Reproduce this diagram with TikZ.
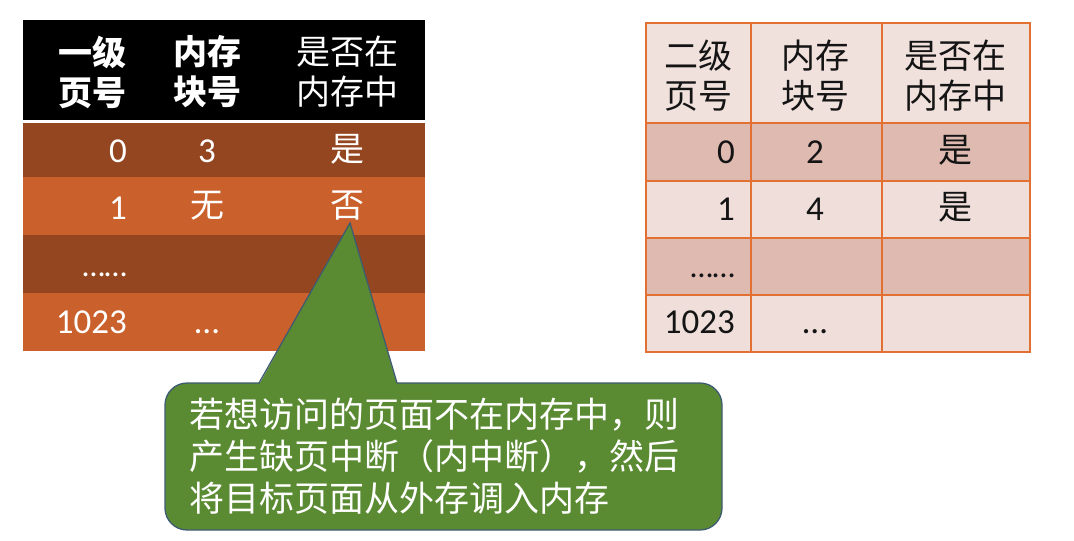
\documentclass[tikz,border=0pt]{standalone}
\usepackage{fontspec}
\setmainfont{Carlito}
\newfontfamily\cjk{Noto Sans CJK SC}
\definecolor{ldark}{RGB}{148,70,32}
\definecolor{lorange}{RGB}{202,96,44}
\definecolor{rhead}{RGB}{240,225,221}
\definecolor{rdark}{RGB}{222,186,176}
\definecolor{rlight}{RGB}{239,222,218}
\definecolor{rgrid}{RGB}{226,112,50}
\definecolor{cgreen}{RGB}{90,138,50}
\definecolor{cborder}{RGB}{62,92,112}
\definecolor{rtext}{RGB}{20,20,20}
\tikzset{
  cjkhead/.style={font=\cjk\fontsize{34}{40}\selectfont, align=center, inner sep=0pt},
  cjkcell/.style={font=\cjk\fontsize{34}{40}\selectfont, inner sep=0pt, anchor=base},
  numr/.style={font=\fontsize{35}{40}\selectfont, inner sep=0pt, anchor=base east},
  numc/.style={font=\fontsize{35}{40}\selectfont, inner sep=0pt, anchor=base},
  dotsr/.style={font=\fontsize{32}{38}\selectfont, inner sep=0pt, anchor=base east},
  gridline/.style={draw=rgrid, line width=2pt},
  calloutbox/.style={fill=cgreen, draw=cborder, line width=1.3pt, rounded corners=22pt,
    minimum width=557pt, minimum height=147pt, text width=509pt, align=left, inner sep=0pt,
    text=white, font=\cjk\fontsize{35}{42}\selectfont}
}
\begin{document}
\begin{tikzpicture}[x=1pt,y=-1pt]
\useasboundingbox (0,0) rectangle (1074,541);
\fill[white] (0,0) rectangle (1074,541);

% ---------- left table ----------
\fill[black]   (23,20)  rectangle (425,120);
\fill[ldark]   (23,123) rectangle (425,177);
\fill[lorange] (23,177) rectangle (425,235);
\fill[ldark]   (23,235) rectangle (425,293);
\fill[lorange] (23,293) rectangle (425,351);

\begin{scope}[text=white]
\node[cjkhead, font=\cjk\bfseries\fontsize{34}{40}\selectfont] (lh1) at (92,72) {一级\\页号};
\node[cjkhead, font=\cjk\bfseries\fontsize{34}{40}\selectfont] (lh2) at (207,72) {内存\\块号};
\node[cjkhead] (lh3) at (347,72) {是否在\\内存中};

\node[numr] (l00) at (127,162) {0};
\node[numc] (l01) at (207,162) {3};
\node[cjkcell] (l02) at (347,161) {是};

\node[numr] (l10) at (127,219) {1};
\node[cjkcell] (l11) at (207,217) {无};
\node[cjkcell] (l12) at (347,217) {否};

\node[dotsr] (l20) at (127,276) {……};

\node[numr] (l30) at (127,333) {1023};
\node[numc] (l31) at (207,333) {…};
\end{scope}

% ---------- right table ----------
\fill[rhead]  (646,23)  rectangle (1030,123);
\fill[rdark]  (646,123) rectangle (1030,181);
\fill[rlight] (646,181) rectangle (1030,238);
\fill[rdark]  (646,238) rectangle (1030,295);
\fill[rlight] (646,295) rectangle (1030,352);
\draw[gridline] (646,23) rectangle (1030,352);
\foreach \xx in {751,882} \draw[gridline] (\xx,23) -- (\xx,352);
\foreach \yy in {123,181,238,295} \draw[gridline] (646,\yy) -- (1030,\yy);

\begin{scope}[text=rtext]
\node[cjkhead] (rh1) at (698,76) {二级\\页号};
\node[cjkhead] (rh2) at (815,76) {内存\\块号};
\node[cjkhead] (rh3) at (955,76) {是否在\\内存中};

\node[numr] (r00) at (735,163) {0};
\node[numc] (r01) at (815,163) {2};
\node[cjkcell] (r02) at (955,162) {是};

\node[numr] (r10) at (735,220) {1};
\node[numc] (r11) at (815,220) {4};
\node[cjkcell] (r12) at (955,219) {是};

\node[dotsr] (r20) at (735,277) {……};

\node[numr] (r30) at (735,333) {1023};
\node[numc] (r31) at (815,333) {…};
\end{scope}

% ---------- callout ----------
\node[calloutbox] (callout) at (443.5,456.5)
  {若想访问的页面不在内存中，则\\产生缺页中断（内中断），然后\\将目标页面从外存调入内存};
\coordinate (tipbl) at (259,383);
\coordinate (tipbr) at (397,383);
\coordinate (tip) at (350,223);
\fill[cgreen] ([yshift=-1.6pt]tipbl) -- (tip) -- ([yshift=-1.6pt]tipbr) -- cycle;
\draw[cborder, line width=1.3pt, line join=miter] (tipbl) -- (tip) -- (tipbr);
\end{tikzpicture}
\end{document}
